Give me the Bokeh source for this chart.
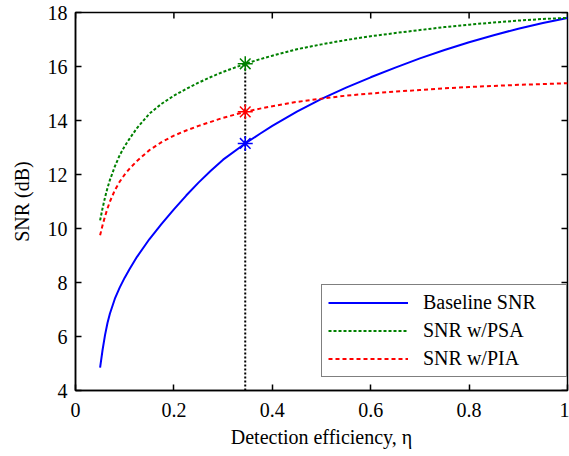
from bokeh.plotting import figure
from bokeh.models import Range1d, FixedTicker, Legend, LegendItem
from bokeh.embed import file_html
from bokeh.resources import INLINE

# ---- data ----
eta = [0.05, 0.055, 0.06, 0.065, 0.07, 0.08, 0.09, 0.10, 0.11, 0.125, 0.15,
       0.175, 0.2, 0.225, 0.25, 0.275, 0.3, 0.345, 0.375, 0.4, 0.45, 0.5,
       0.55, 0.6, 0.65, 0.7, 0.75, 0.8, 0.85, 0.9, 0.95, 1.0]
snr_baseline = [4.85, 5.5, 6.05, 6.5, 6.85, 7.4, 7.82, 8.18, 8.5, 8.95, 9.6,
                10.17, 10.71, 11.22, 11.7, 12.14, 12.55, 13.15, 13.51, 13.8, 14.33, 14.8,
                15.22, 15.6, 15.96, 16.3, 16.61, 16.9, 17.16, 17.4, 17.61, 17.8]
snr_psa = [10.3, 10.75, 11.15, 11.5, 11.8, 12.3, 12.72, 13.05, 13.33, 13.72, 14.25,
           14.62, 14.92, 15.17, 15.4, 15.61, 15.8, 16.1, 16.27, 16.4, 16.64, 16.82,
           16.98, 17.12, 17.24, 17.35, 17.46, 17.55, 17.63, 17.7, 17.76, 17.8]
snr_pia = [9.75, 10.12, 10.45, 10.74, 11.0, 11.42, 11.74, 12.0, 12.22, 12.5, 12.9,
           13.2, 13.44, 13.63, 13.8, 13.95, 14.1, 14.32, 14.44, 14.53, 14.69, 14.81,
           14.92, 15.0, 15.07, 15.13, 15.19, 15.24, 15.28, 15.32, 15.35, 15.38]

marker_eta = [0.345]
marker_baseline = [13.15]
marker_psa = [16.1]
marker_pia = [14.32]
vline_y = [4, 16.1]

x_ticks = [0, 0.2, 0.4, 0.6, 0.8, 1.0]
x_tick_labels = ["0", "0.2", "0.4", "0.6", "0.8", "1"]
y_ticks = [4, 6, 8, 10, 12, 14, 16, 18]
y_tick_labels = ["4", "6", "8", "10", "12", "14", "16", "18"]

series_names = ["Baseline SNR", "SNR w/PSA", "SNR w/PIA"]

FONT = "Liberation Serif"
FS = "20px"
X0, X1, Y0, Y1 = 0, 1, 4, 18
FRAME_W, FRAME_H = 492, 378
TICK_PX = 6

p = figure(width=569, height=456, output_backend="svg", toolbar_location=None,
           x_range=Range1d(X0, X1), y_range=Range1d(Y0, Y1),
           min_border_left=75, min_border_right=2, min_border_top=12,
           min_border_bottom=66, x_axis_label="Detection efficiency, η",
           y_axis_label="SNR (dB)")
p.background_fill_color = "white"
p.border_fill_color = "white"
p.grid.visible = False
p.outline_line_color = "black"
p.outline_line_width = 1.5

def style_axis(ax, ticks, labels):
    ax.ticker = FixedTicker(ticks=ticks)
    ax.major_label_overrides = {t: l for t, l in zip(ticks, labels)}
    ax.major_tick_in = TICK_PX
    ax.major_tick_out = 0
    ax.minor_tick_in = 0
    ax.minor_tick_out = 0
    ax.axis_line_color = "black"
    ax.axis_line_width = 1.5
    ax.major_tick_line_color = "black"
    ax.major_tick_line_width = 1.5
    ax.major_label_text_font = FONT
    ax.major_label_text_color = "black"
    ax.major_label_text_font_size = FS
    ax.axis_label_text_font = FONT
    ax.axis_label_text_font_size = FS
    ax.axis_label_text_font_style = "normal"
    ax.axis_label_text_color = "black"

for ax in p.xaxis:
    style_axis(ax, x_ticks, x_tick_labels)
    ax.major_label_standoff = 12
    ax.axis_label_standoff = 6
for ax in p.yaxis:
    style_axis(ax, y_ticks, y_tick_labels)
    ax.major_label_standoff = 8
    ax.axis_label_standoff = 12

# inward ticks on the top and right edges of the box
dy = TICK_PX * (Y1 - Y0) / FRAME_H
dx = TICK_PX * (X1 - X0) / FRAME_W
p.segment(x0=x_ticks, y0=[Y1] * len(x_ticks), x1=x_ticks,
          y1=[Y1 - dy] * len(x_ticks), line_color="black", line_width=1.5)
p.segment(x0=[X1] * len(y_ticks), y0=y_ticks, x1=[X1 - dx] * len(y_ticks),
          y1=y_ticks, line_color="black", line_width=1.5)

# vertical dotted line
p.line([marker_eta[0], marker_eta[0]], vline_y, line_color="black",
       line_width=2, line_dash="2 2")

r_base = p.line(eta, snr_baseline, line_color="#0000ff", line_width=2)
r_psa = p.line(eta, snr_psa, line_color="#008000", line_width=2, line_dash="3 2")
r_pia = p.line(eta, snr_pia, line_color="#ff0000", line_width=2, line_dash="4 3")

for vals, col in [(marker_baseline, "#0000ff"), (marker_psa, "#008000"),
                  (marker_pia, "#ff0000")]:
    p.scatter(marker_eta, vals, marker="asterisk", size=15,
              line_color=col, line_width=1.5)

legend = Legend(items=[LegendItem(label=series_names[0], renderers=[r_base]),
                       LegendItem(label=series_names[1], renderers=[r_psa]),
                       LegendItem(label=series_names[2], renderers=[r_pia])],
                location=(246, 13))
legend.label_text_font = FONT
legend.label_text_font_size = FS
legend.label_text_color = "black"
legend.border_line_color = "black"
legend.border_line_width = 1.5
legend.background_fill_color = "white"
legend.background_fill_alpha = 1.0
legend.padding = 6
legend.spacing = 5
legend.glyph_width = 80
legend.glyph_height = 23
legend.label_height = 23
legend.label_width = 137
legend.label_standoff = 15
legend.margin = 0
p.add_layout(legend, "center")

open("out.html", "w").write(file_html(p, INLINE))
